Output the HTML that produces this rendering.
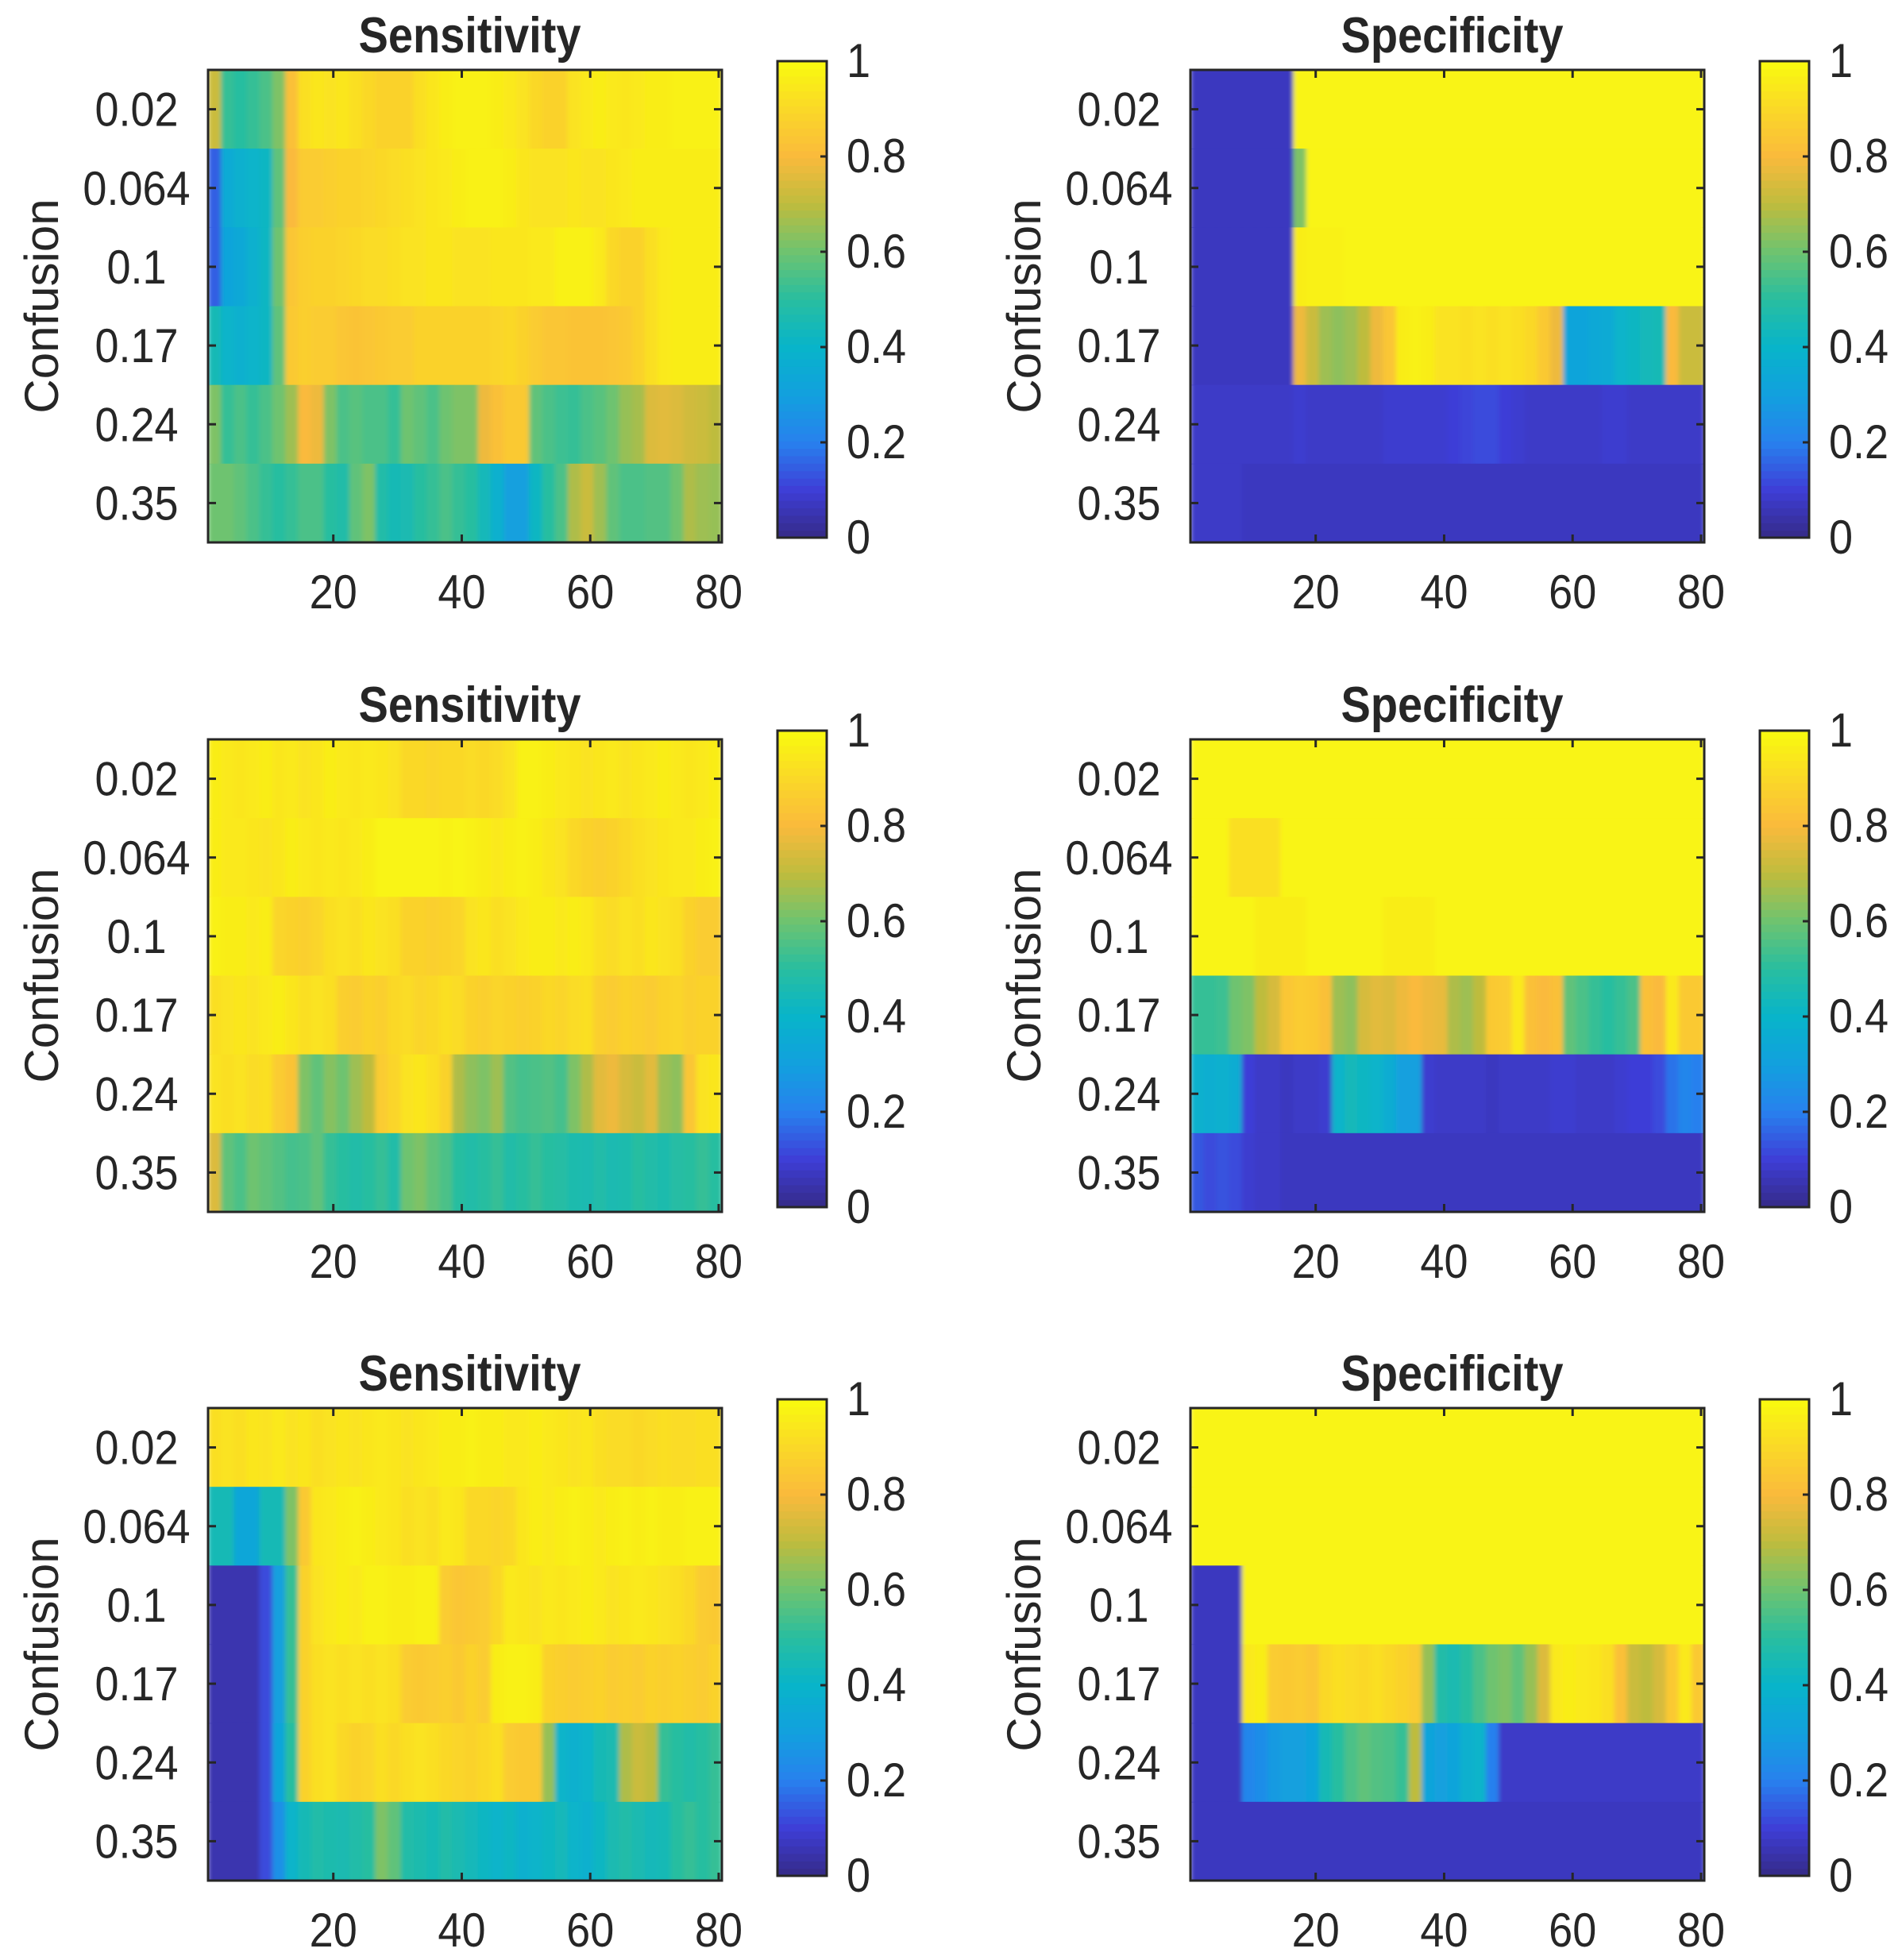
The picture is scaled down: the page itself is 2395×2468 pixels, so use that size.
<!DOCTYPE html>
<html><head><meta charset="utf-8">
<style>
html,body{margin:0;padding:0;background:#fff;}
svg{display:block;}
text{font-family:"Liberation Sans",Arial,sans-serif;fill:#262626;}
</style></head>
<body>
<svg id="fig" width="2395" height="2468" viewBox="0 0 2395 2468" xmlns="http://www.w3.org/2000/svg">
<defs><filter id="hblur" x="0" y="0" width="1" height="1"><feGaussianBlur stdDeviation="3 0" edgeMode="duplicate"/></filter></defs>
</svg>
<script>
// ---- data ----
const yCategories = ["0.02","0.064","0.1","0.17","0.24","0.35"];
const xTicks = [20,40,60,80];
const cbTicks = [0,0.2,0.4,0.6,0.8,1];
const cbTickLabels = ["0","0.2","0.4","0.6","0.8","1"];
const binWidth = 2; // each value covers 2 x-units (1..80)
const panelTitles = ["Sensitivity","Specificity","Sensitivity","Specificity","Sensitivity","Specificity"];

const sens1 = [
[0.72,0.52,0.50,0.52,0.55,0.62,0.82,0.92,0.94,0.93,0.94,0.92,0.90,0.88,0.88,0.88,0.92,0.94,0.96,0.97,0.97,0.97,0.96,0.95,0.93,0.90,0.88,0.88,0.93,0.95,0.96,0.95,0.94,0.95,0.96,0.96,0.97,0.97,0.97,0.97],
[0.15,0.35,0.38,0.40,0.42,0.58,0.80,0.86,0.86,0.87,0.88,0.88,0.89,0.90,0.91,0.92,0.93,0.94,0.95,0.96,0.97,0.97,0.97,0.96,0.94,0.93,0.93,0.93,0.94,0.93,0.93,0.94,0.95,0.96,0.96,0.96,0.96,0.96,0.96,0.96],
[0.15,0.32,0.34,0.38,0.42,0.60,0.84,0.87,0.88,0.88,0.89,0.90,0.91,0.91,0.92,0.93,0.93,0.94,0.94,0.93,0.93,0.93,0.94,0.94,0.94,0.95,0.95,0.97,0.97,0.97,0.95,0.90,0.88,0.88,0.92,0.95,0.96,0.96,0.96,0.96],
[0.45,0.40,0.38,0.40,0.42,0.58,0.85,0.87,0.86,0.86,0.84,0.83,0.84,0.85,0.86,0.86,0.88,0.88,0.88,0.88,0.88,0.88,0.89,0.90,0.88,0.86,0.84,0.84,0.83,0.83,0.83,0.84,0.85,0.88,0.92,0.95,0.96,0.96,0.96,0.96],
[0.62,0.52,0.55,0.52,0.55,0.60,0.66,0.80,0.78,0.62,0.55,0.57,0.55,0.55,0.52,0.60,0.58,0.55,0.60,0.62,0.62,0.78,0.82,0.85,0.85,0.58,0.55,0.53,0.52,0.55,0.57,0.60,0.65,0.67,0.75,0.76,0.75,0.73,0.72,0.70],
[0.60,0.60,0.58,0.55,0.52,0.50,0.52,0.55,0.55,0.50,0.48,0.58,0.62,0.48,0.45,0.46,0.50,0.52,0.55,0.52,0.50,0.44,0.38,0.30,0.30,0.42,0.50,0.55,0.68,0.72,0.66,0.58,0.55,0.55,0.56,0.56,0.60,0.68,0.66,0.65]
];
const spec1 = [
[0.07,0.07,0.07,0.07,0.07,0.07,0.07,0.07,0.98,0.98,0.98,0.98,0.98,0.98,0.98,0.98,0.98,0.98,0.98,0.98,0.98,0.98,0.98,0.98,0.98,0.98,0.98,0.98,0.98,0.98,0.98,0.98,0.98,0.98,0.98,0.98,0.98,0.98,0.98,0.98],
[0.07,0.07,0.07,0.07,0.07,0.07,0.07,0.07,0.62,0.98,0.98,0.98,0.98,0.98,0.98,0.98,0.98,0.98,0.98,0.98,0.98,0.98,0.98,0.98,0.98,0.98,0.98,0.98,0.98,0.98,0.98,0.98,0.98,0.98,0.98,0.98,0.98,0.98,0.98,0.98],
[0.07,0.07,0.07,0.07,0.07,0.07,0.07,0.07,0.96,0.97,0.97,0.97,0.98,0.98,0.98,0.98,0.98,0.98,0.98,0.98,0.98,0.98,0.98,0.98,0.98,0.98,0.98,0.98,0.98,0.98,0.98,0.98,0.98,0.98,0.98,0.98,0.98,0.98,0.98,0.98],
[0.07,0.07,0.07,0.07,0.07,0.07,0.07,0.07,0.78,0.72,0.66,0.64,0.66,0.70,0.78,0.84,0.96,0.97,0.96,0.93,0.93,0.92,0.93,0.92,0.93,0.92,0.90,0.85,0.78,0.32,0.32,0.34,0.35,0.40,0.42,0.44,0.45,0.80,0.72,0.72],
[0.08,0.08,0.08,0.08,0.08,0.08,0.08,0.08,0.09,0.08,0.08,0.08,0.08,0.08,0.08,0.09,0.09,0.09,0.09,0.09,0.10,0.11,0.12,0.12,0.10,0.09,0.08,0.08,0.08,0.08,0.08,0.08,0.09,0.09,0.08,0.08,0.08,0.08,0.08,0.08],
[0.08,0.08,0.08,0.08,0.07,0.07,0.07,0.07,0.07,0.07,0.07,0.07,0.07,0.07,0.07,0.07,0.07,0.07,0.07,0.07,0.07,0.07,0.07,0.07,0.07,0.07,0.07,0.07,0.07,0.07,0.07,0.07,0.07,0.07,0.07,0.07,0.07,0.07,0.07,0.07]
];
const sens2 = [
[0.96,0.95,0.94,0.95,0.96,0.94,0.95,0.93,0.94,0.96,0.95,0.94,0.95,0.94,0.93,0.90,0.90,0.89,0.90,0.90,0.91,0.90,0.91,0.93,0.97,0.97,0.96,0.95,0.94,0.93,0.94,0.95,0.93,0.94,0.95,0.96,0.95,0.94,0.95,0.96],
[0.96,0.95,0.95,0.94,0.93,0.94,0.96,0.95,0.94,0.95,0.94,0.95,0.96,0.98,0.98,0.98,0.98,0.98,0.97,0.98,0.97,0.96,0.95,0.96,0.97,0.96,0.94,0.93,0.90,0.88,0.87,0.88,0.90,0.92,0.93,0.94,0.95,0.95,0.96,0.97],
[0.97,0.96,0.96,0.95,0.96,0.89,0.88,0.87,0.89,0.92,0.93,0.92,0.94,0.93,0.92,0.88,0.88,0.87,0.88,0.89,0.93,0.94,0.92,0.93,0.95,0.96,0.96,0.95,0.96,0.95,0.92,0.91,0.93,0.92,0.94,0.93,0.92,0.88,0.86,0.86],
[0.92,0.93,0.94,0.93,0.95,0.96,0.94,0.92,0.93,0.92,0.87,0.86,0.88,0.87,0.90,0.91,0.89,0.90,0.92,0.91,0.88,0.87,0.89,0.88,0.87,0.88,0.90,0.89,0.91,0.92,0.87,0.86,0.88,0.87,0.86,0.88,0.89,0.87,0.88,0.88],
[0.93,0.92,0.93,0.91,0.92,0.86,0.83,0.62,0.58,0.63,0.60,0.66,0.70,0.86,0.89,0.93,0.94,0.92,0.88,0.68,0.64,0.62,0.66,0.56,0.54,0.55,0.56,0.54,0.62,0.68,0.76,0.78,0.74,0.72,0.76,0.66,0.64,0.84,0.93,0.94],
[0.75,0.58,0.55,0.60,0.58,0.56,0.54,0.55,0.58,0.52,0.50,0.48,0.50,0.52,0.48,0.60,0.62,0.58,0.55,0.50,0.48,0.50,0.52,0.48,0.50,0.52,0.50,0.49,0.47,0.46,0.48,0.46,0.47,0.50,0.48,0.47,0.49,0.50,0.52,0.50]
];
const spec2 = [
[0.98,0.98,0.98,0.98,0.98,0.98,0.98,0.98,0.98,0.98,0.98,0.98,0.98,0.98,0.98,0.98,0.98,0.98,0.98,0.98,0.98,0.98,0.98,0.98,0.98,0.98,0.98,0.98,0.98,0.98,0.98,0.98,0.98,0.98,0.98,0.98,0.98,0.98,0.98,0.98],
[0.98,0.98,0.98,0.92,0.92,0.92,0.92,0.98,0.98,0.98,0.98,0.98,0.98,0.98,0.98,0.98,0.98,0.98,0.98,0.98,0.98,0.98,0.98,0.98,0.98,0.98,0.98,0.98,0.98,0.98,0.98,0.98,0.98,0.98,0.98,0.98,0.98,0.98,0.98,0.98],
[0.98,0.98,0.98,0.98,0.98,0.96,0.96,0.96,0.96,0.98,0.98,0.98,0.98,0.98,0.98,0.96,0.96,0.96,0.96,0.98,0.98,0.98,0.98,0.98,0.98,0.98,0.98,0.98,0.98,0.98,0.98,0.98,0.98,0.98,0.98,0.98,0.98,0.98,0.98,0.98],
[0.52,0.52,0.53,0.60,0.62,0.70,0.74,0.84,0.86,0.85,0.82,0.66,0.64,0.74,0.76,0.75,0.78,0.80,0.78,0.77,0.68,0.66,0.70,0.85,0.86,0.95,0.82,0.80,0.82,0.58,0.55,0.52,0.50,0.52,0.55,0.82,0.80,0.95,0.85,0.85],
[0.38,0.37,0.38,0.36,0.10,0.08,0.08,0.07,0.08,0.08,0.09,0.40,0.44,0.42,0.40,0.36,0.30,0.30,0.09,0.08,0.08,0.08,0.08,0.07,0.08,0.08,0.08,0.08,0.09,0.09,0.08,0.08,0.08,0.09,0.10,0.10,0.12,0.18,0.22,0.20],
[0.14,0.12,0.13,0.12,0.09,0.08,0.08,0.07,0.07,0.07,0.07,0.07,0.07,0.07,0.07,0.07,0.07,0.07,0.07,0.07,0.07,0.07,0.07,0.07,0.07,0.07,0.07,0.07,0.07,0.07,0.07,0.07,0.07,0.07,0.07,0.07,0.07,0.07,0.07,0.07]
];
const sens3 = [
[0.92,0.93,0.92,0.94,0.93,0.95,0.93,0.94,0.92,0.93,0.94,0.93,0.94,0.95,0.94,0.93,0.94,0.95,0.96,0.96,0.97,0.96,0.96,0.95,0.95,0.96,0.95,0.94,0.93,0.94,0.92,0.91,0.91,0.90,0.91,0.92,0.91,0.91,0.92,0.92],
[0.45,0.45,0.33,0.33,0.45,0.45,0.62,0.85,0.94,0.95,0.96,0.97,0.96,0.95,0.94,0.92,0.93,0.92,0.95,0.94,0.90,0.90,0.89,0.90,0.94,0.96,0.95,0.96,0.97,0.96,0.95,0.96,0.97,0.96,0.97,0.96,0.96,0.97,0.97,0.97],
[0.05,0.05,0.05,0.05,0.12,0.30,0.52,0.88,0.93,0.95,0.96,0.95,0.97,0.97,0.96,0.96,0.97,0.97,0.86,0.84,0.85,0.86,0.90,0.95,0.94,0.93,0.95,0.94,0.95,0.96,0.95,0.93,0.94,0.95,0.94,0.93,0.92,0.90,0.86,0.85],
[0.05,0.05,0.05,0.05,0.12,0.30,0.52,0.88,0.92,0.93,0.92,0.93,0.92,0.93,0.92,0.86,0.85,0.86,0.87,0.85,0.88,0.86,0.96,0.97,0.97,0.96,0.88,0.87,0.86,0.87,0.88,0.86,0.87,0.86,0.88,0.87,0.88,0.87,0.86,0.88],
[0.05,0.05,0.05,0.05,0.12,0.32,0.50,0.88,0.92,0.93,0.90,0.88,0.89,0.92,0.90,0.92,0.93,0.92,0.90,0.89,0.88,0.90,0.92,0.86,0.85,0.85,0.65,0.40,0.38,0.40,0.45,0.46,0.68,0.72,0.70,0.52,0.50,0.48,0.50,0.52],
[0.05,0.05,0.05,0.05,0.12,0.25,0.40,0.45,0.48,0.47,0.46,0.48,0.50,0.62,0.58,0.48,0.47,0.45,0.48,0.46,0.44,0.42,0.40,0.42,0.38,0.40,0.42,0.44,0.40,0.38,0.42,0.46,0.48,0.46,0.44,0.45,0.50,0.52,0.50,0.52]
];
const spec3 = [
[0.98,0.98,0.98,0.98,0.98,0.98,0.98,0.98,0.98,0.98,0.98,0.98,0.98,0.98,0.98,0.98,0.98,0.98,0.98,0.98,0.98,0.98,0.98,0.98,0.98,0.98,0.98,0.98,0.98,0.98,0.98,0.98,0.98,0.98,0.98,0.98,0.98,0.98,0.98,0.98],
[0.98,0.98,0.98,0.98,0.98,0.98,0.98,0.98,0.98,0.98,0.98,0.98,0.98,0.98,0.98,0.98,0.98,0.98,0.98,0.98,0.98,0.98,0.98,0.98,0.98,0.98,0.98,0.98,0.98,0.98,0.98,0.98,0.98,0.98,0.98,0.98,0.98,0.98,0.98,0.98],
[0.07,0.07,0.07,0.07,0.98,0.98,0.98,0.98,0.98,0.98,0.98,0.98,0.98,0.98,0.98,0.98,0.98,0.98,0.98,0.98,0.98,0.98,0.98,0.98,0.98,0.98,0.98,0.98,0.98,0.98,0.98,0.98,0.98,0.98,0.98,0.98,0.98,0.98,0.98,0.98],
[0.07,0.07,0.07,0.07,0.95,0.96,0.86,0.85,0.86,0.84,0.90,0.92,0.91,0.90,0.92,0.90,0.88,0.86,0.65,0.48,0.46,0.50,0.55,0.60,0.62,0.58,0.65,0.75,0.95,0.96,0.95,0.94,0.92,0.82,0.72,0.70,0.74,0.85,0.95,0.85],
[0.07,0.07,0.07,0.07,0.22,0.24,0.28,0.30,0.30,0.32,0.45,0.50,0.55,0.58,0.56,0.55,0.52,0.70,0.32,0.30,0.32,0.38,0.40,0.20,0.08,0.08,0.08,0.08,0.08,0.08,0.08,0.08,0.08,0.08,0.08,0.08,0.08,0.08,0.08,0.08],
[0.07,0.07,0.07,0.07,0.07,0.07,0.07,0.07,0.07,0.07,0.07,0.07,0.07,0.07,0.07,0.07,0.07,0.07,0.07,0.07,0.07,0.07,0.07,0.07,0.07,0.07,0.07,0.07,0.07,0.07,0.07,0.07,0.07,0.07,0.07,0.07,0.07,0.07,0.07,0.07]
];
const panelData = [sens1, spec1, sens2, spec2, sens3, spec3];

// ---- layout ----
const NS = "http://www.w3.org/2000/svg";
const svg = document.getElementById("fig");
const colLeft = [262, 1499];
const rowTop = [88, 931, 1773];
const axW = 647, axH = 595;
const xMin = 0.5, xMax = 80.5;
const stops = [
 [0.00,[53,42,135]],[0.10,[62,62,215]],[0.20,[40,128,238]],[0.30,[18,160,222]],
 [0.40,[8,180,202]],[0.50,[40,190,160]],[0.60,[110,195,112]],[0.70,[190,188,62]],
 [0.80,[250,186,60]],[0.90,[250,216,40]],[1.00,[249,251,14]]];
function parula(v){
  v=Math.max(0,Math.min(1,v));
  for(let i=1;i<stops.length;i++){
    if(v<=stops[i][0]){
      const a=stops[i-1],b=stops[i],t=(v-a[0])/(b[0]-a[0]);
      const c=a[1].map((x,k)=>Math.round(x+(b[1][k]-x)*t));
      return `rgb(${c[0]},${c[1]},${c[2]})`;
    }
  }
  return "rgb(249,251,14)";
}
function mk(tag, attrs, parent){
  const e=document.createElementNS(NS,tag);
  for(const k in attrs) e.setAttribute(k,attrs[k]);
  (parent||svg).appendChild(e);
  return e;
}
const SY = 1.12; // vertical text stretch as in the reference
function label(x, y, size, str, anchor, parent, extra){
  const t = mk("text", Object.assign({x:0, y:0, "font-size":size, "text-anchor":anchor||"start",
    transform:`translate(${x},${y}) scale(1,${SY})`}, extra||{}), parent);
  t.textContent = str;
  return t;
}

panelData.forEach((data, p) => {
  const L = colLeft[p%2], T = rowTop[Math.floor(p/2)];
  const xs = v => L + (v - xMin) / (xMax - xMin) * axW;
  const rowH = axH / yCategories.length;
  const ys = r => T + r * rowH;
  const g = mk("g", {});
  
  

  // cells (per row, blurred horizontally only)
  data.forEach((row, r) => {
    const rg = mk("g", {filter:"url(#hblur)"}, g);
    
    
    row.forEach((v, i) => {
      const x0 = xs(i*binWidth + 0.5), x1 = xs(i*binWidth + binWidth + 0.5);
      const c = mk("rect", {x:x0, y:ys(r), width:(x1-x0)+0.6, height:rowH+0.6, fill:parula(v)}, rg);
      
      
    });
  });
  // axes box
  const box = mk("rect", {x:L, y:T, width:axW, height:axH, fill:"none", stroke:"#262626", "stroke-width":3}, g);
  
  
  // x ticks
  xTicks.forEach(t => {
    const x = xs(t);
    mk("line",{x1:x,x2:x,y1:T+axH,y2:T+axH-10,stroke:"#262626","stroke-width":3},g);
    mk("line",{x1:x,x2:x,y1:T,y2:T+10,stroke:"#262626","stroke-width":3},g);
    const tl = label(x, T+axH+83, 54, String(t), "middle", g);
    
    
  });
  // y ticks
  yCategories.forEach((c, r) => {
    const y = ys(r) + rowH/2;
    mk("line",{x1:L,x2:L+10,y1:y,y2:y,stroke:"#262626","stroke-width":3},g);
    mk("line",{x1:L+axW,x2:L+axW-10,y1:y,y2:y,stroke:"#262626","stroke-width":3},g);
    const tl = label(L-90, y+21, 54, c, "middle", g);
    
    
  });
  // y label
  const yl = mk("text",{x:0,y:0,"font-size":60,"text-anchor":"middle",transform:`translate(${L-189},${T+axH/2}) rotate(-90)`},g);
  yl.textContent = "Confusion";
  
  
  // title
  const ti = label(L+axW/2+6, T-22, 56, panelTitles[p], "middle", g, {"font-weight":"bold", fill:"#000"});
  
  

  // colorbar
  const cbX = L + 717, cbW = 62, cbT = T - 11, cbB = T + axH - 6;
  const cb = mk("g", {}, svg);
  
  
  const nSteps = 64;
  for (let k=0;k<nSteps;k++){
    const v0 = k/nSteps;
    const yTop = cbB - (k+1)/nSteps*(cbB-cbT);
    mk("rect",{x:cbX,y:yTop,width:cbW,height:(cbB-cbT)/nSteps+0.6,fill:parula(v0+0.5/nSteps)},cb);
  }
  mk("rect",{x:cbX,y:cbT,width:cbW,height:cbB-cbT,fill:"none",stroke:"#262626","stroke-width":3},cb);
  cbTicks.forEach((t, k) => {
    const y = cbB - t*(cbB-cbT);
    mk("line",{x1:cbX+cbW,x2:cbX+cbW-8,y1:y,y2:y,stroke:"#262626","stroke-width":3},cb);
    const tl = label(cbX+87, y+20, 54, cbTickLabels[k], "start", cb);
    
    
  });
});
</script>
</body></html>
